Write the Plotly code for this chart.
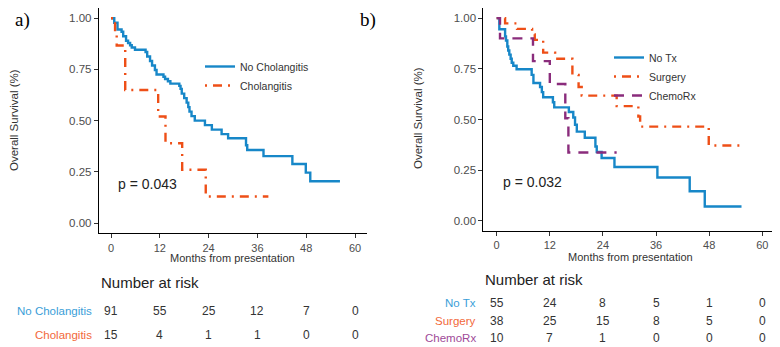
import plotly.graph_objects as go

# ---------------- data ----------------
# Panel a)
nochol_t = [0, 0.8, 1.6, 2.6, 3.0, 3.7, 4.2, 4.7, 5.1, 5.9, 8.5, 8.9, 9.6, 10.1, 10.8, 11.2,
            12.9, 13.3, 14.0, 14.6, 16.8, 17.1, 17.4, 18.0, 18.6, 19.0, 19.3, 19.8, 20.6,
            23.1, 24.8, 27.2, 28.8, 33.2, 33.5, 37.5, 44.6, 47.9, 49.0, 56.3]
nochol_s = [1.0, 0.978, 0.945, 0.934, 0.912, 0.890, 0.879, 0.868, 0.857, 0.846, 0.835, 0.813,
            0.791, 0.769, 0.747, 0.725, 0.714, 0.703, 0.692, 0.681, 0.67, 0.655, 0.632, 0.61,
            0.588, 0.566, 0.544, 0.522, 0.50, 0.478, 0.456, 0.434, 0.414, 0.38, 0.357, 0.327,
            0.288, 0.246, 0.204, 0.204]
chol_t = [0, 1.0, 1.4, 3.5, 11.6, 13.4, 17.5, 23.3, 38.7]
chol_s = [1.0, 0.933, 0.867, 0.65, 0.52, 0.39, 0.26, 0.13, 0.13]

# Panel b)
notx_t = [0, 0.6, 1.9, 2.1, 2.4, 2.6, 2.85, 3.15, 3.4, 3.75, 4.5, 7.9, 8.3, 9.8, 10.2, 10.5,
          12.7, 13.0, 16.3, 17.3, 17.7, 18.1, 19.9, 22.3, 22.6, 23.7, 26.6, 36.3, 43.6, 47.0, 55.3]
notx_s = [1.0, 0.945, 0.91, 0.89, 0.86, 0.84, 0.82, 0.80, 0.78, 0.765, 0.748, 0.72, 0.68, 0.66,
          0.635, 0.61, 0.585, 0.56, 0.537, 0.51, 0.474, 0.44, 0.41, 0.367, 0.34, 0.31, 0.266,
          0.214, 0.146, 0.071, 0.071]
surg_t = [0, 1.9, 4.6, 8.0, 8.6, 10.5, 13.2, 17.1, 18.5, 19.2, 27.1, 32.0, 32.4, 47.9, 55.3]
surg_s = [1.0, 0.974, 0.947, 0.92, 0.893, 0.83, 0.80, 0.72, 0.66, 0.618, 0.566, 0.515, 0.465,
          0.372, 0.372]
chemo_t = [0, 0.75, 8.2, 12.0, 15.5, 16.2, 27.1]
chemo_s = [1.0, 0.9, 0.788, 0.675, 0.506, 0.3375, 0.3375]

# Risk tables
risk_times = [0, 12, 24, 36, 48, 60]
risk_a_labels = ["No Cholangitis", "Cholangitis"]
risk_a = [[91, 55, 25, 12, 7, 0], [15, 4, 1, 1, 0, 0]]
risk_b_labels = ["No Tx", "Surgery", "ChemoRx"]
risk_b = [[55, 24, 8, 5, 1, 0], [38, 25, 15, 8, 5, 0], [10, 7, 1, 0, 0, 0]]

p_a = "p = 0.043"
p_b = "p = 0.032"

# ---------------- style ----------------
OFF = 8                      # page body margin of the html document
W, H = 780 - OFF, 347 - OFF
BLUE = "#1787C8"
ORANGE = "#EE4F17"
PURPLE = "#8A2C7C"
LBL_BLUE = "#3A9ED8"
LBL_ORANGE = "#F2683A"
LBL_PURPLE = "#A04A98"
FONT = "Liberation Sans, Arial, sans-serif"
DOTDASH = "2px,6px,9px,6px"
LONGDASH = "10px,8px"

def py(p):  # window pixel row -> paper y
    return 1 - (p - OFF) / H

def px(p):  # window pixel column -> paper x
    return (p - OFF) / W

fig = go.Figure()

fig.add_trace(go.Scatter(x=nochol_t, y=nochol_s, mode="lines", line=dict(color=BLUE, width=2.4, shape="hv"),
                         name="No Cholangitis", xaxis="x", yaxis="y", legend="legend"))
fig.add_trace(go.Scatter(x=chol_t, y=chol_s, mode="lines", line=dict(color=ORANGE, width=2.4, shape="hv", dash=DOTDASH),
                         name="Cholangitis", xaxis="x", yaxis="y", legend="legend"))
fig.add_trace(go.Scatter(x=notx_t, y=notx_s, mode="lines", line=dict(color=BLUE, width=2.4, shape="hv"),
                         name="No Tx", xaxis="x2", yaxis="y2", legend="legend2"))
fig.add_trace(go.Scatter(x=surg_t, y=surg_s, mode="lines", line=dict(color=ORANGE, width=2.4, shape="hv", dash=DOTDASH),
                         name="Surgery", xaxis="x2", yaxis="y2", legend="legend2"))
fig.add_trace(go.Scatter(x=chemo_t, y=chemo_s, mode="lines", line=dict(color=PURPLE, width=2.4, shape="hv", dash=LONGDASH),
                         name="ChemoRx", xaxis="x2", yaxis="y2", legend="legend2"))

axis_common = dict(showgrid=False, zeroline=False, showline=True, linecolor="black", linewidth=1,
                   ticks="outside", ticklen=4, tickcolor="#333333", tickwidth=1,
                   tickfont=dict(family=FONT, size=11, color="#4D4D4D"))
xcommon = dict(axis_common, range=[-3, 63], tickvals=risk_times)
ycommon = dict(axis_common, range=[-0.05, 1.05], tickvals=[0, 0.25, 0.5, 0.75, 1.0], tickformat=".2f",
               tickfont=dict(family=FONT, size=11.5, color="#4D4D4D"))

fig.update_layout(
    width=W, height=H, margin=dict(l=0, r=0, t=0, b=0),
    paper_bgcolor="white", plot_bgcolor="white",
    xaxis=dict(xcommon, domain=[px(98.8), px(367.2)], anchor="y"),
    yaxis=dict(ycommon, domain=[py(233.3), min(1, py(8.0))], anchor="x"),
    xaxis2=dict(xcommon, domain=[px(483.4), min(1, px(775.6))], anchor="y2"),
    yaxis2=dict(ycommon, domain=[py(231.0), min(1, py(8.0))], anchor="x2"),
    legend=dict(x=px(200), y=py(52), xanchor="left", yanchor="top", bgcolor="rgba(0,0,0,0)",
                font=dict(family=FONT, size=10.5, color="#333333"), tracegroupgap=0),
    legend2=dict(x=px(609), y=py(43), xanchor="left", yanchor="top", bgcolor="rgba(0,0,0,0)",
                 font=dict(family=FONT, size=10.5, color="#333333"), tracegroupgap=0),
    showlegend=True,
)

ann = []
# panel letters
LETTER_FONT = dict(family="Liberation Serif, DejaVu Serif, serif", size=19, color="black")
ann.append(dict(text="a)", x=px(14), y=1, xref="paper", yref="paper", xanchor="left", yanchor="top",
                showarrow=False, borderpad=0, font=LETTER_FONT))
ann.append(dict(text="b)", x=px(359), y=1, xref="paper", yref="paper", xanchor="left", yanchor="top",
                showarrow=False, borderpad=0, font=LETTER_FONT))
# axis titles
for cx, cy, yx, yy in [(233, 258, 14, 120), (630, 257, 418, 118)]:
    ann.append(dict(text="Months from presentation", x=px(cx), y=py(cy), xref="paper", yref="paper",
                    xanchor="center", yanchor="middle", showarrow=False,
                    font=dict(family=FONT, size=11, color="#333333")))
    ann.append(dict(text="Overall Survival (%)", x=px(yx), y=py(yy), xref="paper", yref="paper",
                    xanchor="center", yanchor="middle", textangle=-90, showarrow=False,
                    font=dict(family=FONT, size=11.5, color="#333333")))
# p-values
ann.append(dict(text=p_a, x=1.2, y=0.193, xref="x", yref="y", xanchor="left", yanchor="middle",
                showarrow=False, font=dict(family=FONT, size=14, color="#222222")))
ann.append(dict(text=p_b, x=1.0, y=0.19, xref="x2", yref="y2", xanchor="left", yanchor="middle",
                showarrow=False, font=dict(family=FONT, size=14, color="#222222")))
# risk tables
ann.append(dict(text="Number at risk", x=px(99), y=py(282), xref="paper", yref="paper", xanchor="left",
                yanchor="middle", showarrow=False, font=dict(family=FONT, size=15, color="#222222")))
ann.append(dict(text="Number at risk", x=px(483), y=py(279), xref="paper", yref="paper", xanchor="left",
                yanchor="middle", showarrow=False, font=dict(family=FONT, size=15, color="#222222")))

rows_a_y = [311, 335]
cols_a = [LBL_BLUE, LBL_ORANGE]
for lab, vals, ry, c in zip(risk_a_labels, risk_a, rows_a_y, cols_a):
    ann.append(dict(text=lab, x=px(94), y=py(ry), xref="paper", yref="paper", xanchor="right", yanchor="middle",
                    showarrow=False, font=dict(family=FONT, size=11.5, color=c)))
    for t, v in zip(risk_times, vals):
        ann.append(dict(text=str(v), x=t, y=py(ry), xref="x", yref="paper", xanchor="center", yanchor="middle",
                        showarrow=False, font=dict(family=FONT, size=12, color="#333333")))

rows_b_y = [303, 321, 338]
cols_b = [LBL_BLUE, LBL_ORANGE, LBL_PURPLE]
for lab, vals, ry, c in zip(risk_b_labels, risk_b, rows_b_y, cols_b):
    ann.append(dict(text=lab, x=px(478), y=py(ry), xref="paper", yref="paper", xanchor="right", yanchor="middle",
                    showarrow=False, font=dict(family=FONT, size=11.5, color=c)))
    for t, v in zip(risk_times, vals):
        ann.append(dict(text=str(v), x=t, y=py(ry), xref="x2", yref="paper", xanchor="center", yanchor="middle",
                        showarrow=False, font=dict(family=FONT, size=12, color="#333333")))

fig.update_layout(annotations=ann)
fig.write_html("out.html")
